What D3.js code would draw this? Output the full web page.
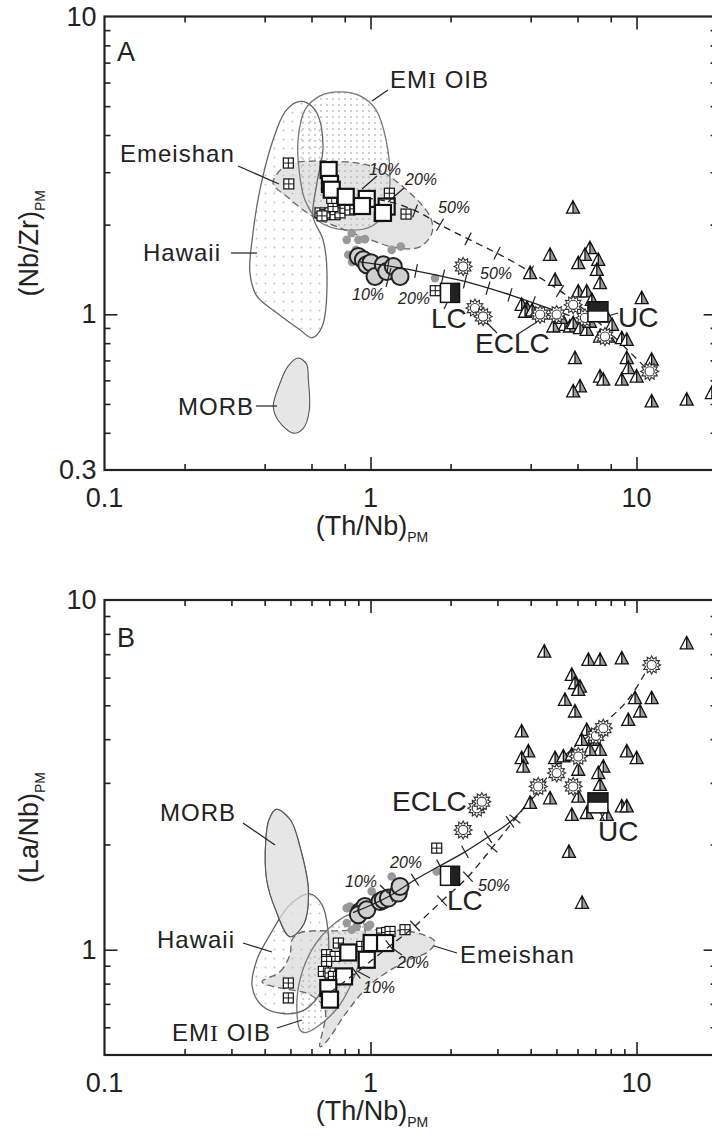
<!DOCTYPE html>
<html><head><meta charset="utf-8">
<script src="https://cdn.jsdelivr.net/npm/d3@7"></script>
<style>
body{margin:0;background:#fff}
svg{display:block}
text{font-family:"Liberation Sans",Arial,sans-serif;fill:#222}
.narrow{font-family:"Liberation Sans Narrow","Arial Narrow","Liberation Sans",sans-serif}
</style>
</head><body>
<svg id="c" width="712" height="1139"></svg>
<script>
// ---------------- DATA (x = (Th/Nb)PM) ----------------
// Panel A: y = (Nb/Zr)PM
const hawaiiA = [[0.529,5.16],[0.577,5.13],[0.629,4.74],[0.663,3.65],[0.629,2.76],[0.608,2.13],[0.663,1.78],[0.686,1.38],[0.657,0.908],[0.603,0.834],[0.543,0.887],[0.445,1.01],[0.374,1.15],[0.352,1.38],[0.359,1.78],[0.384,2.62],[0.430,3.85],[0.477,4.78]];
const emiA = [[0.534,3.85],[0.567,4.86],[0.646,5.41],[0.767,5.58],[0.913,5.41],[1.049,4.86],[1.144,3.85],[1.184,2.83],[1.144,2.24],[1.013,1.98],[0.801,1.92],[0.646,2.04],[0.567,2.42],[0.539,3.05]];
const emeishanA = [[0.430,2.76],[0.486,3.18],[0.608,3.27],[0.705,3.27],[0.996,3.15],[1.325,2.68],[1.674,2.13],[1.703,1.88],[1.535,1.685],[1.258,1.67],[0.996,1.78],[0.748,1.97],[0.608,2.13],[0.486,2.48]];
const morbA = [[0.535,0.713],[0.575,0.68],[0.584,0.603],[0.589,0.478],[0.56,0.415],[0.513,0.399],[0.45,0.44],[0.431,0.491],[0.457,0.588],[0.49,0.67]];
const gridA = [[0.491,3.22],[0.493,2.74],[0.646,2.19],[0.674,2.16],[0.704,2.19],[0.736,2.16],[0.768,2.19],[0.723,2.30],[0.715,2.45],[0.802,2.27],[0.837,2.24],[1.177,2.55],[1.079,2.13],[1.36,2.17],[1.752,1.20],[0.874,2.26],[0.657,2.14]];
const bigSqA = [[0.696,3.05],[0.704,2.74],[0.715,2.62],[0.807,2.48],[0.968,2.44],[0.929,2.31],[1.15,2.30],[1.114,2.19]];
const dotsA = [[0.850,1.873],[0.900,1.778],[0.953,1.788],[0.814,1.778],[0.825,1.584],[1.201,1.646],[1.299,1.688],[1.747,1.323],[0.882,1.646],[0.852,1.50]];
const circlesA = [[0.900,1.563],[0.940,1.524],[0.968,1.466],[1.004,1.489],[1.04,1.339],[1.117,1.466],[1.15,1.392],[1.218,1.447],[1.291,1.339]];
const starsA = [[2.23,1.447],[2.47,1.049],[2.65,0.983],[4.34,0.998],[5.01,0.998],[5.78,1.076],[6.40,0.973],[7.61,0.842],[11.2,0.643]];
const trianglesA = [[4.73,1.584],[6.68,1.668],[6.40,1.584],[6.04,1.485],[7.18,1.524],[7.09,1.410],[7.29,1.273],[4.94,1.305],[3.98,1.375],[6.04,1.193],[6.50,1.193],[6.79,1.118],[10.46,1.133],[3.70,1.076],[3.87,1.049],[3.81,1.02],[4.05,1.03],[7.73,0.983],[7.29,0.842],[7.83,0.842],[8.80,0.832],[9.19,0.821],[5.87,0.713],[9.19,0.713],[11.40,0.704],[7.29,0.618],[7.50,0.603],[8.80,0.603],[10.01,0.618],[9.31,0.660],[6.13,0.573],[5.78,0.551],[11.40,0.510],[15.44,0.517],[19.2,0.544],[5.38,0.922],[5.62,0.910],[5.78,0.934],[6.13,0.899],[6.50,0.887],[4.87,0.910],[5.77,2.28],[5.20,0.973],[6.68,0.944],[8.09,0.922]];
const lcA = [1.99, 1.18];
const ucA = [7.16, 1.02];
const mixSolidA = [[0.913,1.50],[1.291,1.432],[1.825,1.346],[2.366,1.276],[3.345,1.163],[4.853,1.035],[5.6,0.99]];
const mixDashA = [[0.962,2.46],[1.215,2.37],[1.535,2.19],[1.825,2.00],[2.366,1.778],[3.07,1.584],[3.98,1.389],[5.29,1.18],[6.68,0.998],[8.30,0.834],[11.2,0.641]];
const solidTicksA = [1.164,1.483,1.873,2.266,2.765,3.345,4.08];
const dashTicksA = [1.47,1.825,2.326,2.99,3.98,5.16];

// Panel B: y = (La/Nb)PM
const hawaiiB = [[0.592,1.445],[0.657,1.345],[0.692,1.14],[0.692,0.936],[0.657,0.769],[0.567,0.674],[0.477,0.656],[0.394,0.688],[0.359,0.784],[0.374,0.936],[0.419,1.104],[0.498,1.345]];
const emiB = [[0.543,0.591],[0.529,0.72],[0.557,0.877],[0.618,1.033],[0.723,1.179],[0.837,1.259],[0.929,1.218],[0.954,1.068],[0.874,0.848],[0.768,0.697],[0.646,0.61],[0.567,0.579]];
const emeishanB = [[0.391,0.81],[0.457,0.865],[0.498,0.968],[0.507,1.068],[0.543,1.118],[0.767,1.133],[1.184,1.14],[1.535,1.111],[1.748,1.054],[1.645,0.987],[1.348,0.924],[0.996,0.794],[0.801,0.652],[0.692,0.553],[0.646,0.528],[0.675,0.674],[0.592,0.744],[0.498,0.769],[0.419,0.789]];
const morbB = [[0.442,2.52],[0.50,2.35],[0.543,1.97],[0.584,1.48],[0.56,1.18],[0.498,1.09],[0.44,1.3],[0.407,1.585],[0.404,2.06],[0.415,2.35]];
const gridB = [[0.757,1.045],[0.684,0.968],[0.736,0.957],[0.684,0.926],[0.665,0.867],[0.704,0.858],[0.491,0.803],[0.491,0.728],[0.725,0.839],[1.348,1.141],[0.927,1.022],[1.102,1.116],[1.15,1.12],[1.184,1.128],[1.774,1.952]];
const bigSqB = [[0.825,0.982],[1.01,1.045],[0.968,0.936],[1.134,1.045],[0.795,0.839],[0.694,0.777],[0.704,0.72]];
const dotsB = [[1.774,1.674],[1.201,1.62],[1.01,1.468],[0.837,1.329],[0.814,1.192],[0.981,1.166],[0.85,1.141],[0.814,1.315],[0.887,1.166],[0.996,1.179]];
const circlesB = [[0.913,1.286],[0.953,1.329],[0.9,1.259],[0.968,1.301],[1.086,1.374],[1.117,1.389],[1.167,1.405],[1.272,1.452],[1.291,1.517]];
const starsB = [[2.23,2.20],[2.51,2.54],[2.62,2.65],[4.27,2.93],[5.01,3.20],[5.78,2.93],[6.04,3.57],[7.04,4.09],[7.50,4.30],[11.40,6.52]];
const trianglesB = [[4.50,7.12],[6.59,6.74],[7.29,6.74],[8.80,6.81],[15.44,7.52],[5.71,6.11],[5.87,5.78],[6.13,5.65],[6.04,5.53],[5.38,5.18],[5.87,4.80],[9.87,5.24],[11.40,5.24],[10.31,4.80],[9.31,4.54],[6.50,4.25],[6.22,3.98],[6.88,3.98],[7.29,3.73],[9.19,3.69],[10.01,3.53],[3.70,4.21],[3.92,3.69],[3.70,3.53],[3.75,3.34],[4.94,3.53],[5.31,3.57],[5.71,3.61],[6.68,3.73],[7.50,3.34],[7.18,3.20],[6.04,3.27],[5.01,3.23],[7.29,2.96],[6.04,2.74],[4.73,2.71],[3.98,2.63],[8.80,2.57],[9.19,2.57],[7.18,2.57],[5.71,2.43],[6.50,2.46],[7.73,2.43],[5.57,1.905],[6.24,1.362]];
const lcB = [1.99, 1.627];
const ucB = [7.16, 2.63];
const mixSolidB = [[0.859,1.276],[1.184,1.427],[1.47,1.585],[1.825,1.738],[2.266,1.905],[2.765,2.10],[3.345,2.32],[4.34,2.865]];
const mixDashB = [[0.704,0.754],[0.913,0.877],[1.134,1.0],[1.445,1.156],[1.857,1.38],[2.326,1.617],[2.862,1.956],[3.98,2.683],[5.29,3.54],[7.50,4.42],[9.45,5.28],[11.34,6.61]];
const solidTicksB = [1.184,1.47,1.825,2.266,2.765,3.345];
const dashTicksB = [0.882,1.184,1.47,1.857,2.326,2.862,3.49];

// tick values
const xMinorA = [0.2,0.4,0.6,0.8,2,4,6,8];
const xMinorB = [0.2,0.3,0.4,0.5,0.6,0.7,0.8,0.9,2,3,4,5,6,7,8,9];
const xMajor = [1,10];
const xLabels = ["0.1","1","10"];
const xLabelVals = [0.1,1,10];
const yMinorA = [0.4,0.5,0.6,0.7,0.8,0.9,2,3,4,5,6,7,8,9];
const yMinorB = [0.6,0.7,0.8,0.9,2,3,4,5,6,7,8,9];
const yLabelValsA = [0.3,1,10];
const yLabelsA = ["0.3","1","10"];
const yLabelValsB = [1,10];
const yLabelsB = ["1","10"];

// ---------------- DRAWING ----------------
const svg = d3.select("#c");
const defs = svg.append("defs");
const pH = defs.append("pattern").attr("id","dotsH").attr("width",9).attr("height",9).attr("patternUnits","userSpaceOnUse");
pH.append("circle").attr("cx",4.5).attr("cy",4.5).attr("r",1.0).attr("fill","#c4c4c4");
const pE = defs.append("pattern").attr("id","dotsE").attr("width",6).attr("height",6).attr("patternUnits","userSpaceOnUse");
pE.append("circle").attr("cx",3).attr("cy",3).attr("r",0.9).attr("fill","#b8b8b8");

const X0 = 104.5, X1 = 716.6;

function sunPath(R, r, n){
  let p="";
  for(let i=0;i<2*n;i++){
    const a=Math.PI*i/n - Math.PI/2, rr = i%2 ? r : R;
    p += (i?"L":"M")+(rr*Math.cos(a)).toFixed(2)+","+(rr*Math.sin(a)).toFixed(2);
  }
  return p+"Z";
}
const SUN = sunPath(9,6.2,12);

function interp(line, xv, x, y){
  const lx=Math.log10(xv);
  for(let i=0;i<line.length-1;i++){
    const a=line[i], b=line[i+1];
    const la=Math.log10(a[0]), lb=Math.log10(b[0]);
    if(lx>=la && lx<=lb){
      const t=(lx-la)/(lb-la);
      const ly=Math.log10(a[1])+t*(Math.log10(b[1])-Math.log10(a[1]));
      let dx=x(b[0])-x(a[0]), dy=y(b[1])-y(a[1]);
      const L=Math.hypot(dx,dy); dx/=L; dy/=L;
      return {px:x(xv), py:y(Math.pow(10,ly)), nx:-dy, ny:dx};
    }
  }
  return null;
}

function panel(o){
  const x = d3.scaleLog().domain([0.1,20]).range([X0,X1]);
  const y = d3.scaleLog().domain(o.yDomain).range(o.yRange);
  const g = svg.append("g");
  const top=o.yRange[1], bot=o.yRange[0];
  const clipId="clip"+o.name;
  defs.append("clipPath").attr("id",clipId).append("rect").attr("x",X0).attr("y",top).attr("width",X1-X0).attr("height",bot-top);
  const pg = g.append("g").attr("clip-path",`url(#${clipId})`);
  const area = d3.line().x(d=>x(d[0])).y(d=>y(d[1])).curve(d3.curveCatmullRomClosed.alpha(0.5));

  // fields
  pg.append("path").attr("d",area(o.emeishan)).attr("fill","#e4e4e4").attr("stroke","none");
  pg.append("path").attr("d",area(o.morb)).attr("fill","#e6e6e6").attr("stroke","#555").attr("stroke-width",1.1);
  pg.append("path").attr("d",area(o.hawaii)).attr("fill","url(#dotsH)");
  pg.append("path").attr("d",area(o.emi)).attr("fill","url(#dotsE)");
  pg.append("path").attr("d",area(o.hawaii)).attr("fill","none").attr("stroke","#666").attr("stroke-width",1.3);
  pg.append("path").attr("d",area(o.emi)).attr("fill","none").attr("stroke","#777").attr("stroke-width",1.3);
  pg.append("path").attr("d",area(o.emeishan)).attr("fill","none").attr("stroke","#666").attr("stroke-width",1.3).attr("stroke-dasharray","7,4");
  if(o.name==="B"){
    pg.append("path").attr("d",area(o.morb)).attr("fill","#e6e6e6").attr("fill-opacity",0.7).attr("stroke","#555").attr("stroke-width",1.1);
  }

  // grid squares
  const gs = pg.selectAll(".gsq").data(o.grid).join("g").attr("transform",d=>`translate(${x(d[0])},${y(d[1])})`);
  gs.append("rect").attr("x",-5).attr("y",-5).attr("width",10).attr("height",10).attr("fill","#fff").attr("stroke","#111").attr("stroke-width",1.2);
  gs.append("path").attr("d","M0,-5V5M-5,0H5").attr("stroke","#111").attr("stroke-width",1);

  // large open squares
  pg.selectAll(".bsq").data(o.bigSq).join("rect")
    .attr("x",d=>x(d[0])-8).attr("y",d=>y(d[1])-8).attr("width",16).attr("height",16)
    .attr("fill","#fff").attr("stroke","#111").attr("stroke-width",2.2);

  // small grey dots
  pg.selectAll(".gd").data(o.dots).join("circle").attr("cx",d=>x(d[0])).attr("cy",d=>y(d[1])).attr("r",4.3).attr("fill","#999");
  // big grey circles
  pg.selectAll(".gc").data(o.circles).join("circle").attr("cx",d=>x(d[0])).attr("cy",d=>y(d[1])).attr("r",8.5)
    .attr("fill","#cfcfcf").attr("stroke","#222").attr("stroke-width",2);

  // mixing lines
  const ln = d3.line().x(d=>x(d[0])).y(d=>y(d[1])).curve(d3.curveMonotoneX);
  pg.append("path").attr("d",ln(o.mixSolid)).attr("fill","none").attr("stroke","#222").attr("stroke-width",1.3);
  pg.append("path").attr("d",ln(o.mixDash)).attr("fill","none").attr("stroke","#222").attr("stroke-width",1.3).attr("stroke-dasharray","7,5");
  const tk = (line, vals)=> vals.map(v=>interp(line,v,x,y)).filter(Boolean);
  pg.selectAll(".ts").data(tk(o.mixSolid,o.solidTicks).concat(tk(o.mixDash,o.dashTicks))).join("line")
    .attr("x1",d=>d.px-d.nx*7).attr("y1",d=>d.py-d.ny*7).attr("x2",d=>d.px+d.nx*7).attr("y2",d=>d.py+d.ny*7)
    .attr("stroke","#222").attr("stroke-width",1.2);

  // triangles
  const tr = pg.selectAll(".tri").data(o.triangles).join("g").attr("transform",d=>`translate(${x(d[0])},${y(d[1])})`);
  tr.append("path").attr("d","M0,-7L6.5,5.5L-6.5,5.5Z").attr("fill","#fff");
  tr.append("path").attr("d","M0,-7L6.5,5.5L0,5.5Z").attr("fill","#9a9a9a");
  tr.append("path").attr("d","M0,-7L6.5,5.5L-6.5,5.5ZM0,-7V5.5").attr("fill","none").attr("stroke","#111").attr("stroke-width",1.3).attr("stroke-linejoin","miter");

  // stars (ECLC)
  const st = pg.selectAll(".star").data(o.stars).join("g").attr("transform",d=>`translate(${x(d[0])},${y(d[1])})`);
  st.append("path").attr("d",SUN).attr("fill","#fff").attr("stroke","#333").attr("stroke-width",1.1);
  st.append("circle").attr("r",4.6).attr("fill","#fff").attr("stroke","#333").attr("stroke-width",1.1);

  // LC / UC
  const lc = pg.append("g").attr("transform",`translate(${x(o.lc[0])},${y(o.lc[1])})`);
  lc.append("rect").attr("x",-9.5).attr("y",-9.5).attr("width",19).attr("height",19).attr("fill","#fff");
  lc.append("rect").attr("x",0).attr("y",-9.5).attr("width",9.5).attr("height",19).attr("fill","#222");
  lc.append("rect").attr("x",-9.5).attr("y",-9.5).attr("width",19).attr("height",19).attr("fill","none").attr("stroke","#111").attr("stroke-width",1.5);
  const uc = pg.append("g").attr("transform",`translate(${x(o.uc[0])},${y(o.uc[1])})`);
  uc.append("rect").attr("x",-10).attr("y",-10).attr("width",20).attr("height",20).attr("fill","#fff");
  uc.append("rect").attr("x",-10).attr("y",-10).attr("width",20).attr("height",10).attr("fill","#222");
  uc.append("rect").attr("x",-10).attr("y",-10).attr("width",20).attr("height",20).attr("fill","none").attr("stroke","#111").attr("stroke-width",1.5);

  // axes (ticks inward)
  const ax = (gen)=>g.append("g").call(gen).call(s=>{s.select(".domain").remove();s.selectAll("line").attr("stroke","#222").attr("stroke-width",1.6);});
  ax(d3.axisBottom(x).tickValues(o.xMinor.concat([20])).tickSize(-6).tickFormat("")).attr("transform",`translate(0,${bot})`);
  ax(d3.axisBottom(x).tickValues(xMajor).tickSize(-13).tickFormat("")).attr("transform",`translate(0,${bot})`);
  ax(d3.axisTop(x).tickValues(o.xMinor.concat([20])).tickSize(-6).tickFormat("")).attr("transform",`translate(0,${top})`);
  ax(d3.axisTop(x).tickValues(xMajor).tickSize(-13).tickFormat("")).attr("transform",`translate(0,${top})`);
  ax(d3.axisLeft(y).tickValues(o.yMinor).tickSize(-6).tickFormat("")).attr("transform",`translate(${X0},0)`);
  ax(d3.axisLeft(y).tickValues([1]).tickSize(-13).tickFormat("")).attr("transform",`translate(${X0},0)`);
  ax(d3.axisRight(y).tickValues(o.yMinor).tickSize(-6).tickFormat("")).attr("transform",`translate(${X1},0)`);
  ax(d3.axisRight(y).tickValues([1]).tickSize(-13).tickFormat("")).attr("transform",`translate(${X1},0)`);
  g.append("rect").attr("x",X0).attr("y",top).attr("width",X1-X0).attr("height",bot-top).attr("fill","none").attr("stroke","#222").attr("stroke-width",2.2);

  // tick labels
  g.selectAll(".xl").data(xLabelVals).join("text").attr("class","narrow").attr("x",d=>x(d)).attr("y",bot+37)
    .attr("text-anchor","middle").attr("font-size",27).text((d,i)=>xLabels[i]);
  g.selectAll(".yl").data(o.yLabelVals).join("text").attr("class","narrow").attr("x",X0-8).attr("y",d=>y(d)+9)
    .attr("text-anchor","end").attr("font-size",27).text((d,i)=>o.yLabels[i]);

  // axis titles
  const xt = g.append("text").attr("x",372).attr("y",bot+65).attr("text-anchor","middle").attr("font-size",27).attr("class","narrow");
  xt.append("tspan").text("(Th/Nb)");
  xt.append("tspan").attr("font-size",14).attr("dy",7).text("PM");
  const yt = g.append("text").attr("transform",`translate(38,${(top+bot)/2}) rotate(-90)`).attr("text-anchor","middle").attr("font-size",27).attr("class","narrow");
  yt.append("tspan").text(o.yTitle);
  yt.append("tspan").attr("font-size",14).attr("dy",7).text("PM");

  return {g,x,y};
}

function label(g, txt, x, y, opt={}){
  const t = g.append("text").attr("x",x).attr("y",y).attr("font-size",opt.size||24)
    .attr("letter-spacing",opt.ls==null?1:opt.ls).attr("text-anchor",opt.anchor||"start");
  if(opt.italic) t.attr("font-style","italic");
  if(txt==="EMI OIB"){
    t.append("tspan").text("EM");
    t.append("tspan").attr("font-family","Liberation Serif, serif").text("I");
    t.append("tspan").text(" OIB");
  } else t.text(txt);
  return t;
}
function lead(g, x1,y1,x2,y2){ g.append("line").attr("x1",x1).attr("y1",y1).attr("x2",x2).attr("y2",y2).attr("stroke","#222").attr("stroke-width",1.2); }

// ---- Panel A ----
const A = panel({name:"A", yDomain:[0.3,10], yRange:[470,16.5], hawaii:hawaiiA, emi:emiA, emeishan:emeishanA, morb:morbA,
  grid:gridA, bigSq:bigSqA, dots:dotsA, circles:circlesA, stars:starsA, triangles:trianglesA, lc:lcA, uc:ucA,
  mixSolid:mixSolidA, mixDash:mixDashA, solidTicks:solidTicksA, dashTicks:dashTicksA,
  xMinor:xMinorA, yMinor:yMinorA, yLabelVals:yLabelValsA, yLabels:yLabelsA, yTitle:"(Nb/Zr)"});
label(A.g,"A",117,61,{size:27,ls:0});
label(A.g,"EMI OIB",390,88); lead(A.g,388,90,372,101);
label(A.g,"Emeishan",120,162); lead(A.g,238,166,279,184);
label(A.g,"Hawaii",143,261); lead(A.g,231,253,257,253);
label(A.g,"MORB",254,415,{anchor:"end"}); lead(A.g,256,406,277,406);
label(A.g,"LC",431,328,{size:28,ls:0}); lead(A.g,447,303,444,309);
label(A.g,"ECLC",475,353,{size:28,ls:0}); lead(A.g,487,323,497,333); lead(A.g,537,322,518,334);
label(A.g,"UC",618,327,{size:28,ls:0}); lead(A.g,608,316,618,313);
label(A.g,"10%",369,175,{size:16,ls:0,italic:true}); lead(A.g,377,176,362,189);
label(A.g,"20%",405,185,{size:16,ls:0,italic:true}); lead(A.g,404,188,388,202);
label(A.g,"50%",438,213,{size:16,ls:0,italic:true});
label(A.g,"10%",352,300,{size:16,ls:0,italic:true}); lead(A.g,386,287,391,268);
label(A.g,"20%",398,304,{size:16,ls:0,italic:true});
label(A.g,"50%",480,279,{size:16,ls:0,italic:true});

// ---- Panel B ----
const B = panel({name:"B", yDomain:[0.5,10], yRange:[1055,600], hawaii:hawaiiB, emi:emiB, emeishan:emeishanB, morb:morbB,
  grid:gridB, bigSq:bigSqB, dots:dotsB, circles:circlesB, stars:starsB, triangles:trianglesB, lc:lcB, uc:ucB,
  mixSolid:mixSolidB, mixDash:mixDashB, solidTicks:solidTicksB, dashTicks:dashTicksB,
  xMinor:xMinorB, yMinor:yMinorB, yLabelVals:yLabelValsB, yLabels:yLabelsB, yTitle:"(La/Nb)"});
label(B.g,"B",117,647,{size:27,ls:0});
label(B.g,"MORB",160,821); lead(B.g,243,823,275,845);
label(B.g,"Hawaii",157,948); lead(B.g,243,943,272,952);
label(B.g,"EMI OIB",172,1041); lead(B.g,277,1028,302,1020);
label(B.g,"Emeishan",460,963); lead(B.g,457,953,434,946);
label(B.g,"ECLC",392,811,{size:28,ls:0});
label(B.g,"LC",447,910,{size:28,ls:0});
label(B.g,"UC",598,841,{size:28,ls:0}); lead(B.g,600,812,604,820);
label(B.g,"10%",345,887,{size:16,ls:0,italic:true}); lead(B.g,380,885,388,893);
label(B.g,"20%",390,868,{size:16,ls:0,italic:true});
label(B.g,"50%",478,891,{size:16,ls:0,italic:true});
label(B.g,"10%",363,993,{size:16,ls:0,italic:true}); lead(B.g,370,978,357,971);
label(B.g,"20%",397,968,{size:16,ls:0,italic:true}); lead(B.g,402,955,392,948);
</script>
</body></html>
